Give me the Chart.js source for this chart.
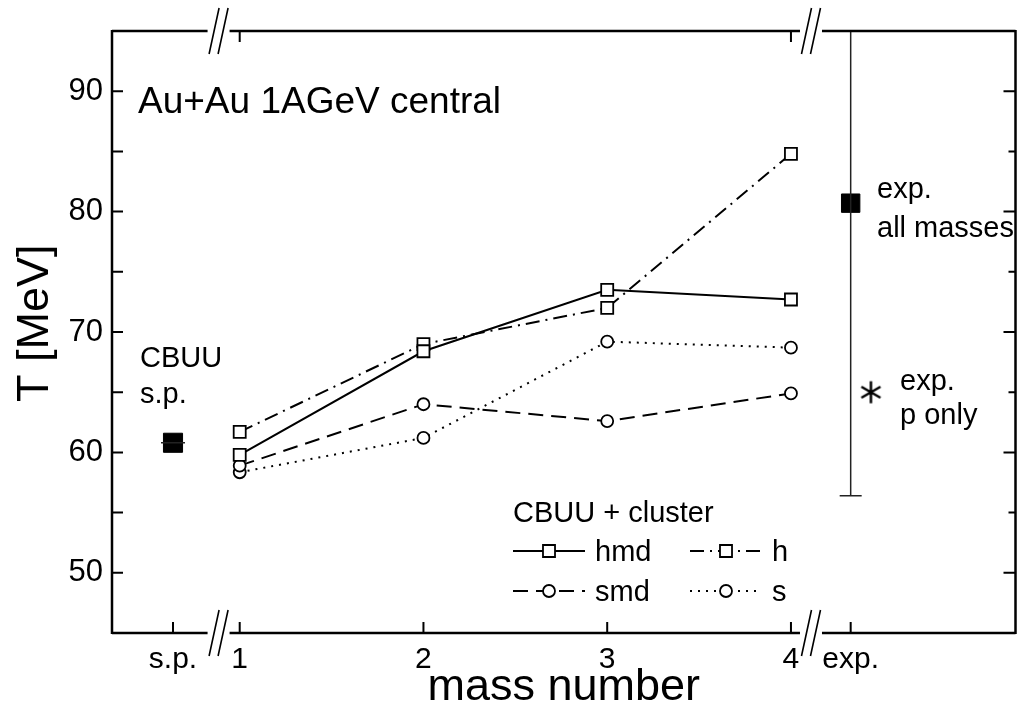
<!DOCTYPE html>
<html>
<head>
<meta charset="utf-8">
<script src="https://cdn.jsdelivr.net/npm/chart.js@4.4.0/dist/chart.umd.min.js"></script>
<style>
  html, body { margin: 0; padding: 0; background: #fff; overflow: hidden; }
  #wrap { position: relative; width: 1030px; height: 725px; }
</style>
</head>
<body>
<div id="wrap"><canvas id="chart"></canvas></div>
<script>
// mass number axis (1..4), model temperatures in MeV
const massNumbers = [1, 2, 3, 4];
const hmdValues = [59.8, 68.4, 73.5, 72.7];
const hValues = [61.7, 69.0, 72.0, 84.8];
const smdValues = [58.9, 64.0, 62.6, 64.9];
const sValues = [58.35, 61.2, 69.2, 68.7];

// single-particle point and experimental points
const spPosition = 0.637;
const spValue = 60.8;
const expPosition = 4.325;
const expAllValue = 80.7;
const expAllRange = [56.4, 95];
const expPOnlyPosition = 4.435;
const expPOnlyValue = 65.0;

// axes
const xTickValues = [0.637, 1, 2, 3, 4, 4.325];
const xTickLabels = ["s.p.", "1", "2", "3", "4", "exp."];
const yTickValues = [50, 60, 70, 80, 90];
const axisBreaks = [0.885, 4.109];
const xRange = [0.305, 5.222];
const yRange = [45, 95];

const FONT = "'Liberation Sans', Arial, Helvetica, sans-serif";

const series = values => massNumbers.map((m, i) => ({ x: m, y: values[i] }));

function makeStar(size) {
    const c = document.createElement("canvas");
    c.width = c.height = size;
    const g = c.getContext("2d");
    g.strokeStyle = "#000";
    g.lineWidth = 2.5;
    const m = size / 2, r = size / 2 - 1.5;
    g.beginPath();
    for (let k = 0; k < 3; k++) {
        const a = Math.PI / 2 + k * Math.PI / 3;
        g.moveTo(m + r * Math.cos(a), m + r * Math.sin(a));
        g.lineTo(m - r * Math.cos(a), m - r * Math.sin(a));
    }
    g.stroke();
    return c;
}

const openMarker = (style, radius) => ({
    pointStyle: style,
    pointRadius: radius,
    pointBackgroundColor: "#fff",
    pointBorderColor: "#000",
    pointBorderWidth: 1.8,
});

const datasets = [
    { label: "hmd", data: series(hmdValues), borderColor: "#000", borderWidth: 2, borderDash: [], ...openMarker("rect", 8.5) },
    { label: "h", data: series(hValues), borderColor: "#000", borderWidth: 2, borderDash: [14, 6, 2, 6], ...openMarker("rect", 8.5) },
    { label: "smd", data: series(smdValues), borderColor: "#000", borderWidth: 2, borderDash: [15, 8], ...openMarker("circle", 6) },
    { label: "s", data: series(sValues), borderColor: "#000", borderWidth: 2, borderDash: [2, 6], ...openMarker("circle", 6) },
    {
        label: "exp range",
        data: [{ x: expPosition, y: expAllRange[0] }, { x: expPosition, y: expAllRange[1] }],
        borderColor: "#222", borderWidth: 1.5,
        pointStyle: "line", pointRadius: [11, 0], pointBorderWidth: 1.5, pointBorderColor: "#222",
    },
    {
        label: "sp bar",
        data: [{ x: spPosition, y: spValue }],
        showLine: false, pointStyle: "line", pointRadius: 12, pointBorderWidth: 1.5, pointBorderColor: "#222",
    },
    {
        label: "CBUU s.p.",
        data: [{ x: spPosition, y: spValue }],
        showLine: false, pointStyle: "rect", pointRadius: 13.5, pointBackgroundColor: "#000", pointBorderColor: "#000", pointBorderWidth: 1,
    },
    {
        label: "exp. all masses",
        data: [{ x: expPosition, y: expAllValue }],
        showLine: false, pointStyle: "rect", pointRadius: 13, pointBackgroundColor: "#000", pointBorderColor: "#000", pointBorderWidth: 1,
    },
    {
        label: "exp. p only",
        data: [{ x: expPOnlyPosition, y: expPOnlyValue }],
        showLine: false, pointStyle: makeStar(25), pointRadius: 12,
    },
];

// frame with broken top/bottom axis and inward ticks
const framePlugin = {
    id: "frame",
    afterDraw(chart) {
        const { ctx, chartArea: a, scales: { x, y } } = chart;
        const gaps = axisBreaks.map(b => x.getPixelForValue(b));
        ctx.save();
        ctx.strokeStyle = "#000";
        ctx.lineCap = "butt";
        ctx.lineWidth = 2.5;
        ctx.beginPath();
        ctx.moveTo(a.left, a.top - 1); ctx.lineTo(a.left, a.bottom + 1);
        ctx.moveTo(a.right, a.top - 1); ctx.lineTo(a.right, a.bottom + 1);
        [a.top, a.bottom].forEach(yy => {
            let start = a.left;
            gaps.forEach(g => { ctx.moveTo(start, yy); ctx.lineTo(g - 11, yy); start = g + 11; });
            ctx.moveTo(start, yy); ctx.lineTo(a.right, yy);
        });
        ctx.stroke();

        ctx.lineWidth = 1.6;
        ctx.beginPath();
        gaps.forEach(g => [a.top, a.bottom].forEach(yy => {
            [-4.5, 4.5].forEach(o => { ctx.moveTo(g + o + 5, yy - 23); ctx.lineTo(g + o - 5, yy + 23); });
        }));
        ctx.stroke();

        ctx.lineWidth = 2;
        ctx.beginPath();
        for (let v = yRange[0] + 5; v < yRange[1]; v += 5) {
            const py = y.getPixelForValue(v);
            const major = v % 10 === 0;
            ctx.moveTo(a.left, py); ctx.lineTo(a.left + 11, py);
            ctx.moveTo(a.right, py); ctx.lineTo(a.right - (major ? 12 : 7), py);
        }
        xTickValues.forEach(v => {
            const px = x.getPixelForValue(v);
            ctx.moveTo(px, a.bottom); ctx.lineTo(px, a.bottom - 11);
        });
        [1, 4].forEach(v => {
            const px = x.getPixelForValue(v);
            ctx.moveTo(px, a.top); ctx.lineTo(px, a.top + 11);
        });
        ctx.stroke();
        ctx.restore();
    },
};

// text labels, y title and the key
const labelsPlugin = {
    id: "labels",
    afterDraw(chart) {
        const { ctx } = chart;
        ctx.save();
        ctx.fillStyle = "#000";
        ctx.textAlign = "left";
        ctx.textBaseline = "alphabetic";

        ctx.save();
        ctx.translate(48, 402);
        ctx.rotate(-Math.PI / 2);
        ctx.font = "45px " + FONT;
        ctx.fillText("T [MeV]", 0, 0);
        ctx.restore();

        ctx.font = "37px " + FONT;
        ctx.fillText("Au+Au 1AGeV central", 138, 113);
        ctx.font = "29px " + FONT;
        ctx.fillText("CBUU", 140, 367);
        ctx.fillText("s.p.", 140, 403);
        ctx.fillText("exp.", 877, 198);
        ctx.fillText("all masses", 877, 237);
        ctx.fillText("exp.", 900, 390);
        ctx.fillText("p only", 900, 424);
        ctx.fillText("CBUU + cluster", 513, 522);

        const entries = [
            { ds: 0, x: 513, y: 551 },
            { ds: 1, x: 690, y: 551 },
            { ds: 2, x: 513, y: 591 },
            { ds: 3, x: 690, y: 591 },
        ];
        entries.forEach(e => {
            const d = chart.data.datasets[e.ds];
            const len = 72;
            ctx.strokeStyle = "#000";
            ctx.lineWidth = 2;
            ctx.setLineDash(d.borderDash);
            ctx.beginPath();
            ctx.moveTo(e.x, e.y); ctx.lineTo(e.x + len, e.y);
            ctx.stroke();
            ctx.setLineDash([]);
            ctx.fillStyle = "#fff";
            ctx.lineWidth = d.pointBorderWidth;
            Chart.helpers.drawPoint(ctx, { pointStyle: d.pointStyle, radius: d.pointRadius, rotation: 0, borderWidth: d.pointBorderWidth }, e.x + len / 2, e.y);
            ctx.fillStyle = "#000";
            ctx.fillText(d.label, e.x + len + 10, e.y + 10);
        });
        ctx.restore();
    },
};

new Chart(document.getElementById("chart"), {
    type: "line",
    data: { datasets },
    options: {
        responsive: true,
        maintainAspectRatio: false,
        animation: false,
        layout: { padding: { top: 31, right: 6, left: 0, bottom: 0 } },
        plugins: { legend: { display: false }, tooltip: { enabled: false } },
        scales: {
            x: {
                type: "linear",
                min: xRange[0],
                max: xRange[1],
                afterBuildTicks: s => { s.ticks = xTickValues.map(v => ({ value: v })); },
                afterFit: s => { s.height = 92; },
                ticks: {
                    autoSkip: false, maxRotation: 0, padding: 9, color: "#000",
                    font: { family: FONT, size: 30 },
                    callback: (v, i) => xTickLabels[i],
                },
                grid: { display: false, drawTicks: false },
                border: { display: false },
                title: { display: true, text: "mass number", color: "#000", font: { family: FONT, size: 45 }, padding: { top: 0, bottom: 10 } },
            },
            y: {
                min: yRange[0],
                max: yRange[1],
                afterBuildTicks: s => { s.ticks = yTickValues.map(v => ({ value: v })); },
                afterFit: s => { s.width = 112; },
                ticks: { padding: 9, color: "#000", font: { family: FONT, size: 31 } },
                grid: { display: false, drawTicks: false },
                border: { display: false },
            },
        },
    },
    plugins: [framePlugin, labelsPlugin],
});
</script>
</body>
</html>
